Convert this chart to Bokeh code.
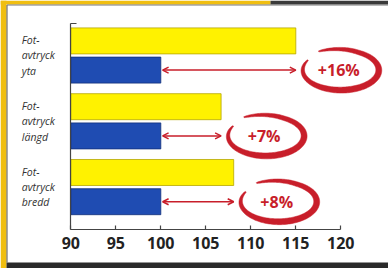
import numpy as np
from bokeh.plotting import figure
from bokeh.models import Range1d, ColumnDataSource, Arrow, OpenHead, FixedTicker
from bokeh.core.properties import value
from bokeh.embed import file_html
from bokeh.resources import INLINE

# ---- data ----
categories = ["Fot-\navtryck\nyta", "Fot-\navtryck\nlängd", "Fot-\navtryck\nbredd"]
after = [115.0, 106.7, 108.1]
before = [100.0, 100.0, 100.0]
change = ["+16%", "+7%", "+8%"]
x_ticks = [90, 95, 100, 105, 110, 115, 120]

# ---- layout constants (pixels -> data) ----
W, H = 388, 268
PXX = 9.0           # pixels per x unit
PXY = 65.8          # pixels per group
AX_X = 70.3         # pixel x of value 90
XS = 90 - AX_X / PXX
XE = XS + W / PXX
n = len(categories)
ypos = [n - i for i in range(n)]
Y_TOP = n + 55.0 / PXY                 # top edge of canvas
Y_BOT = Y_TOP - H / PXY                # bottom edge of canvas
Y_AXIS = 1 - 42.5 / PXY                # x-axis location
Y_TICK = n + (55.0 - 23.0) / PXY       # top of y axis
OFF = 0.222
BH = 0.395

RED = "#C81E2A"
AXC = "#444444"

p = figure(width=W, height=H, output_backend="svg", toolbar_location=None,
           x_range=Range1d(XS, XE), y_range=Range1d(Y_BOT, Y_TOP),
           min_border=0, min_border_left=0, min_border_right=0,
           min_border_top=0, min_border_bottom=0)
p.outline_line_color = None
p.grid.visible = False
p.background_fill_color = "white"
p.border_fill_color = "white"

# frame decoration (page border of the original picture)
def px_x(px):
    return XS + px / PXX
def px_y(py):
    return Y_TOP - py / PXY
p.quad(left=[px_x(0)], right=[px_x(6)], bottom=[px_y(268)], top=[px_y(0)],
       fill_color="#F0BE10", line_color=None)
p.quad(left=[px_x(0)], right=[px_x(270)], bottom=[px_y(4)], top=[px_y(0)],
       fill_color="#F0BE10", line_color=None)
p.quad(left=[px_x(270)], right=[px_x(388)], bottom=[px_y(4)], top=[px_y(0)],
       fill_color="#3A3A3A", line_color=None)
p.quad(left=[px_x(6)], right=[px_x(388)], bottom=[px_y(268)], top=[px_y(262)],
       fill_color="#2A2A2A", line_color=None)
p.segment(x0=[px_x(6.5)], y0=[px_y(4.5)], x1=[px_x(6.5)], y1=[px_y(262)],
          line_color="#555555", line_width=1)
p.segment(x0=[px_x(6.5)], y0=[px_y(4.5)], x1=[px_x(388)], y1=[px_y(4.5)],
          line_color="#777777", line_width=1)

y_after = [y + OFF for y in ypos]
y_before = [y - OFF for y in ypos]

p.hbar(y=y_after, left=90, right=after, height=BH,
       fill_color="#FFF200", line_color="#B5A600", line_width=0.8)
p.hbar(y=y_before, left=90, right=before, height=BH,
       fill_color="#1F4CB2", line_color="#12307A", line_width=0.8)

# arrows from 100 to the new value
asrc = ColumnDataSource(dict(x0=[b + 0.2 for b in before], x1=after, y=y_before))
p.add_layout(Arrow(start=OpenHead(size=6, line_color=RED, line_width=1.5),
                   end=OpenHead(size=6, line_color=RED, line_width=1.5),
                   x_start="x0", y_start="y", x_end="x1", y_end="y",
                   line_color=RED, line_width=1.5, source=asrc))

# brush-like rings
def ring(cx, cy, a=38.0, b=20.0):
    t = np.linspace(np.radians(150), np.radians(482), 160)
    s = (t - t[0]) / (t[-1] - t[0])
    w = 1.0 + 5.2 * np.sin(np.pi * s) ** 0.6
    grow = 1 + 0.10 * np.clip((s - 0.82) / 0.18, 0, 1)
    ao = (a * grow + w / 2); ai = (a * grow - w / 2)
    bo = (b * grow + w / 2); bi = (b * grow - w / 2)
    xo = cx + ao * np.cos(t) / PXX; yo = cy + bo * np.sin(t) / PXY
    xi = cx + ai * np.cos(t) / PXX; yi = cy + bi * np.sin(t) / PXY
    return list(xo) + list(xi[::-1]), list(yo) + list(yi[::-1])

xs, ys = [], []
for v, y in zip(after, y_before):
    rx, ry = ring(v + 45 / PXX, y)
    xs.append(rx); ys.append(ry)
p.patches(xs=xs, ys=ys, fill_color=RED, line_color=RED, line_width=0.5)

p.text(x=[v + 43 / PXX for v in after], y=y_before, text=change,
       text_font=value("Open Sans"), text_font_style="bold", text_font_size="16px",
       text_color=RED, text_align="center", text_baseline="middle")

# category labels
p.text(x=[90 - 49 / PXX] * n, y=ypos, text=categories,
       text_font=value("Open Sans"), text_font_style="italic",
       text_font_size="10.5px", text_color="#333333",
       text_align="left", text_baseline="middle", text_line_height=1.1)

# axes
xa = p.xaxis[0]
xa.fixed_location = Y_AXIS
xa.ticker = FixedTicker(ticks=x_ticks)
xa.bounds = (90, 120)
xa.major_tick_in = 4
xa.major_tick_out = 0
xa.minor_tick_line_color = None
xa.axis_line_color = AXC
xa.axis_line_width = 1.2
xa.major_tick_line_color = AXC
xa.major_tick_line_width = 1.2
xa.major_label_text_font = "Open Sans"
xa.major_label_text_font_style = "bold"
xa.major_label_text_font_size = "16px"
xa.major_label_text_color = "#222222"
xa.major_label_standoff = 7

ya = p.yaxis[0]
ya.fixed_location = 90
ya.ticker = FixedTicker(ticks=[Y_TICK])
ya.bounds = (Y_AXIS, Y_TICK)
ya.major_tick_in = 6
ya.major_tick_out = 0
ya.minor_tick_line_color = None
ya.axis_line_color = AXC
ya.axis_line_width = 1.2
ya.major_tick_line_color = AXC
ya.major_tick_line_width = 1.2
ya.major_label_overrides = {Y_TICK: ""}

open("out.html", "w").write(file_html(p, INLINE))
